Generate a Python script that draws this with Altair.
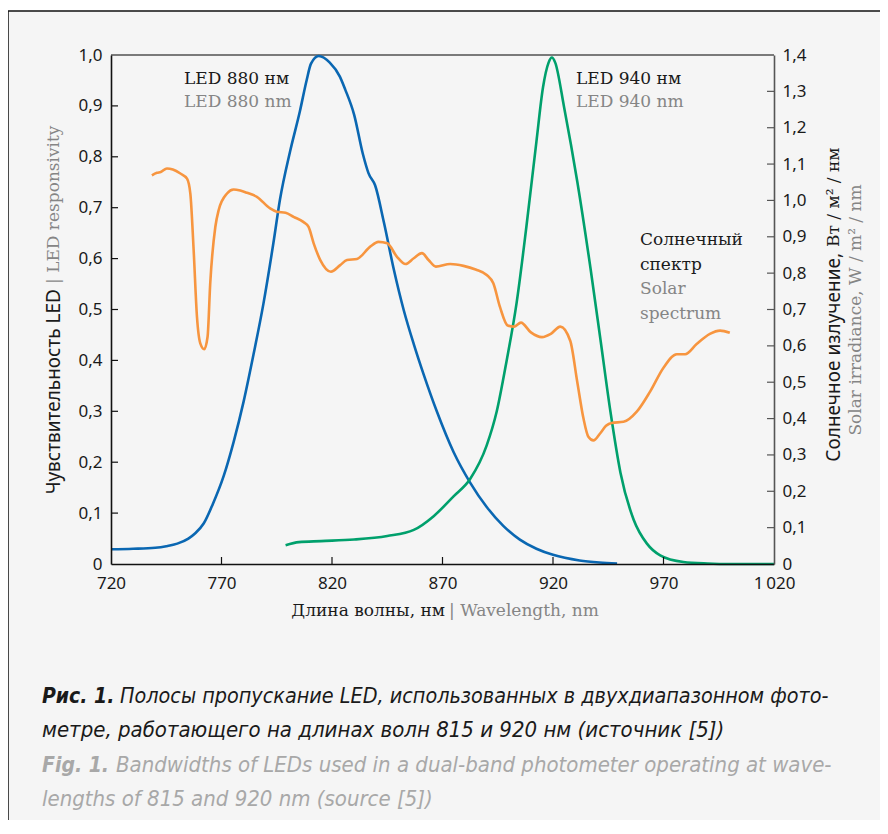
import altair as alt
import pandas as pd

# ---------------- data ----------------
wl_880 = [720, 730, 740, 745, 750, 755, 758, 762, 766, 771, 775.5, 780, 784.5, 789, 793.5,
          796.5, 801, 805.5, 808.5, 810.5, 814, 819, 823.5, 826, 830, 834, 836.5, 839.5,
          843.5, 848, 852.5, 857, 861.5, 867.5, 875, 882.5, 890, 897.5, 905, 912.5, 920,
          932, 941, 949]
resp_880 = [0.029, 0.030, 0.032, 0.035, 0.040, 0.050, 0.060, 0.080, 0.117, 0.173, 0.240,
            0.319, 0.412, 0.512, 0.631, 0.717, 0.810, 0.890, 0.950, 0.983, 0.998, 0.985,
            0.958, 0.932, 0.883, 0.805, 0.768, 0.744, 0.671, 0.578, 0.498, 0.432, 0.372,
            0.299, 0.220, 0.160, 0.112, 0.075, 0.048, 0.030, 0.018, 0.007, 0.003, 0.001]

wl_940 = [799, 805, 815, 830, 845, 857, 866, 875, 882.5, 890, 894.5, 899, 903.5, 908,
          912.5, 915.5, 918, 919.5, 921, 925, 931, 937, 941.5, 946, 950.5, 956.5, 962.5,
          968.5, 979, 990, 1000, 1020]
resp_940 = [0.037, 0.043, 0.045, 0.048, 0.055, 0.067, 0.094, 0.133, 0.167, 0.233, 0.299,
            0.399, 0.512, 0.664, 0.830, 0.937, 0.985, 0.995, 0.985, 0.898, 0.751, 0.580,
            0.440, 0.299, 0.180, 0.087, 0.040, 0.017, 0.004, 0.001, 0.0, 0.0]

wl_sun = [738.5, 740.8, 742.5, 745.3, 748, 751.4, 754.4, 755.9, 757.4, 758.9, 760.4,
          762.2, 763.7, 764.9, 767.2, 768.7, 772.5, 775.5, 778.5, 781.5, 786, 792, 795,
          799, 802.6, 807, 809.4, 811.7, 814.7, 819.5, 823.7, 826.8, 831.3, 837.3, 841,
          845, 849.4, 853.3, 857, 860.7, 863.7, 867, 873.5, 879.5, 885, 890, 893, 896,
          899.5, 902.5, 905.5, 910, 915, 919, 923.3, 927.8, 931, 933.8, 936, 938.3, 941.3,
          944, 946.5, 951.9, 957.9, 964, 970, 976, 979.8, 985, 991, 995.6, 1000]
irr_sun = [1.069, 1.076, 1.078, 1.088, 1.085, 1.074, 1.060, 1.019, 0.863, 0.680, 0.607,
           0.591, 0.625, 0.772, 0.927, 0.973, 1.019, 1.030, 1.027, 1.021, 1.010, 0.978,
           0.969, 0.966, 0.955, 0.941, 0.927, 0.882, 0.836, 0.804, 0.822, 0.836, 0.839,
           0.873, 0.886, 0.882, 0.845, 0.825, 0.841, 0.855, 0.836, 0.818, 0.825, 0.820,
           0.810, 0.795, 0.772, 0.707, 0.656, 0.653, 0.664, 0.637, 0.624, 0.633, 0.653,
           0.614, 0.500, 0.400, 0.350, 0.340, 0.359, 0.380, 0.388, 0.391, 0.419, 0.475,
           0.540, 0.577, 0.577, 0.605, 0.633, 0.642, 0.636]

x_ticks = [720, 770, 820, 870, 920, 970, 1020]
x_inner_ticks = [770, 820, 870, 920, 970]
left_ticks = [0, 0.1, 0.2, 0.3, 0.4, 0.5, 0.6, 0.7, 0.8, 0.9, 1.0]
right_ticks = [0, 0.1, 0.2, 0.3, 0.4, 0.5, 0.6, 0.7, 0.8, 0.9, 1.0, 1.1, 1.2, 1.3, 1.4]

# ---------------- styling ----------------
W, H = 663, 509
BLUE, GREEN, ORANGE = "#0a67b2", "#00a06c", "#f7953f"
BLACK, GREY, LGREY = "#1a1a1a", "#858585", "#a8a8a8"
SERIF = "DejaVu Serif"
SANS = "Noto Sans"
CAP = "'DejaVu Sans Condensed', 'Open Sans', sans-serif"

XS = alt.Scale(domain=[720, 1020], nice=False, zero=False)
YL = alt.Scale(domain=[0, 1], nice=False)
YR = alt.Scale(domain=[0, 1.4], nice=False)

num_expr = "datum.value == 0 ? '0' : replace(format(datum.value, '.1f'), '.', ',')"
XAXIS = alt.Axis(values=x_ticks, title=None, grid=False, ticks=False, tickSize=0,
                 labelPadding=11, labelFlush=False, labelOverlap=False, zindex=2,
                 labelExpr="datum.value == 1020 ? '1\u2009020' : toString(datum.value)",
                 domainColor="#111111", domainWidth=1.6)
YLAXIS = alt.Axis(values=left_ticks, title=None, grid=False, ticks=False, tickSize=0,
                  labelPadding=9, labelOverlap=False, labelExpr=num_expr, zindex=2,
                  domainColor="#111111", domainWidth=1.6, orient="left")
YRAXIS = alt.Axis(values=right_ticks, title=None, grid=False, ticks=False, tickSize=0,
                  labelPadding=8, labelOverlap=False, labelExpr=num_expr, zindex=2,
                  domainColor="#555555", domainWidth=1.6, orient="right")

ONE = alt.Data(values=[{"a": 1}])


def label(text, x, y, color=BLACK, font=SERIF, size=17, angle=0, align="left",
          baseline="alphabetic", weight="normal", style="normal"):
    return alt.Chart(ONE).mark_text(
        text=text, font=font, fontSize=size, color=color, angle=angle, align=align,
        baseline=baseline, fontWeight=weight, fontStyle=style
    ).encode(x=alt.value(x), y=alt.value(y))


df880 = pd.DataFrame({"wl": wl_880, "v": resp_880})
df940 = pd.DataFrame({"wl": wl_940, "v": resp_940})
dfsun = pd.DataFrame({"wl": wl_sun, "v": irr_sun})

frame = alt.Chart(ONE).mark_rect(fill="#f5f5f5", stroke="#111111", strokeWidth=1.5).encode(
    x=alt.value(-103), y=alt.value(-44), x2=alt.value(W + 300), y2=alt.value(H + 400))
top_rule = alt.Chart(ONE).mark_rule(color="#7a7a7a", strokeWidth=2).encode(
    x=alt.value(0), x2=alt.value(W), y=alt.value(0))

blue = alt.Chart(df880).mark_line(color=BLUE, strokeWidth=2.6, interpolate="monotone").encode(
    x=alt.X("wl:Q", scale=XS, axis=XAXIS), y=alt.Y("v:Q", scale=YL, axis=YLAXIS))
green = alt.Chart(df940).mark_line(color=GREEN, strokeWidth=2.6, interpolate="monotone").encode(
    x=alt.X("wl:Q", scale=XS, axis=XAXIS), y=alt.Y("v:Q", scale=YL, axis=YLAXIS))
lticks = alt.Chart(pd.DataFrame({"v": left_ticks[1:-1]})).mark_rule(color="#111111", strokeWidth=1.2).encode(
    y=alt.Y("v:Q", scale=YL, axis=YLAXIS), x=alt.value(0), x2=alt.value(7))
bticks = alt.Chart(pd.DataFrame({"wl": x_inner_ticks})).mark_rule(color="#111111", strokeWidth=1.2).encode(
    x=alt.X("wl:Q", scale=XS, axis=XAXIS), y=alt.value(H), y2=alt.value(H - 7))

left_group = alt.layer(blue, green, lticks, bticks)

sun = alt.Chart(dfsun).mark_line(color=ORANGE, strokeWidth=2.6, interpolate="monotone").encode(
    x=alt.X("wl:Q", scale=XS, axis=XAXIS), y=alt.Y("v:Q", scale=YR, axis=YRAXIS))
rticks = alt.Chart(pd.DataFrame({"v": right_ticks[1:-1]})).mark_rule(color="#555555", strokeWidth=1.2).encode(
    y=alt.Y("v:Q", scale=YR, axis=YRAXIS), x=alt.value(W - 7), x2=alt.value(W))

right_group = alt.layer(sun, rticks)

CS = 22
texts = [
    # curve labels
    label("LED 880 нм", 73, 28.5),
    label("LED 880 nm", 73, 52, color=GREY),
    label("LED 940 нм", 465, 28.5),
    label("LED 940 nm", 465, 52, color=GREY),
    label("Солнечный", 529, 190),
    label("спектр", 529, 214.5),
    label("Solar", 529, 239, color=GREY),
    label("spectrum", 529, 263.5, color=GREY),
    # x title
    label("Длина волны, нм", 334, 561, align="right"),
    label("| Wavelength, nm", 338, 561, color=GREY),
    # left title
    label("Чувствительность LED", -57, 234, font=SANS, size=19, angle=270,
          align="right", baseline="middle"),
    label("| LED responsivity", -57, 229, color=GREY, angle=270, baseline="middle"),
    # right title
    label("Солнечное излучение,", 723, 198, font=SANS, size=19, angle=270,
          align="right", baseline="middle"),
    label("Вт / м² / нм", 723, 192, angle=270, baseline="middle"),
    label("Solar irradiance, W / m² / nm", 745, 255, color=GREY, angle=270,
          align="center", baseline="middle"),
    # caption
    label("Рис. 1.", -69, 648, font=CAP, size=CS - 1, weight="bold", style="italic"),
    label("Полосы пропускание LED, использованных в двухдиапазонном фото-", 9, 648,
          font=CAP, size=CS - 0.6, style="italic"),
    label("метре, работающего на длинах волн 815 и 920 нм (источник [5])", -69, 682,
          font=CAP, size=CS, style="italic"),
    label("Fig. 1.", -69, 717, color=LGREY, font=CAP, size=CS - 1, weight="bold", style="italic"),
    label("Bandwidths of LEDs used in a dual-band photometer operating at wave-", 5, 717,
          color=LGREY, font=CAP, size=CS, style="italic"),
    label("lengths of 815 and 920 nm (source [5])", -69, 751, color=LGREY, font=CAP,
          size=CS, style="italic"),
]

chart = alt.layer(frame, top_rule, left_group, right_group, *texts).resolve_scale(
    y="independent"
).properties(
    width=W, height=H,
    padding={"left": 103, "top": 47, "right": 872 - 103 - W, "bottom": 812 - 47 - H},
    autosize=alt.AutoSizeParams(type="none"),
).configure(background="white").configure_view(strokeWidth=0).configure_axis(
    labelFont=SANS, labelFontSize=17, labelColor=BLACK
)

chart.save("out.html", embed_options={"renderer": "svg", "actions": False})
